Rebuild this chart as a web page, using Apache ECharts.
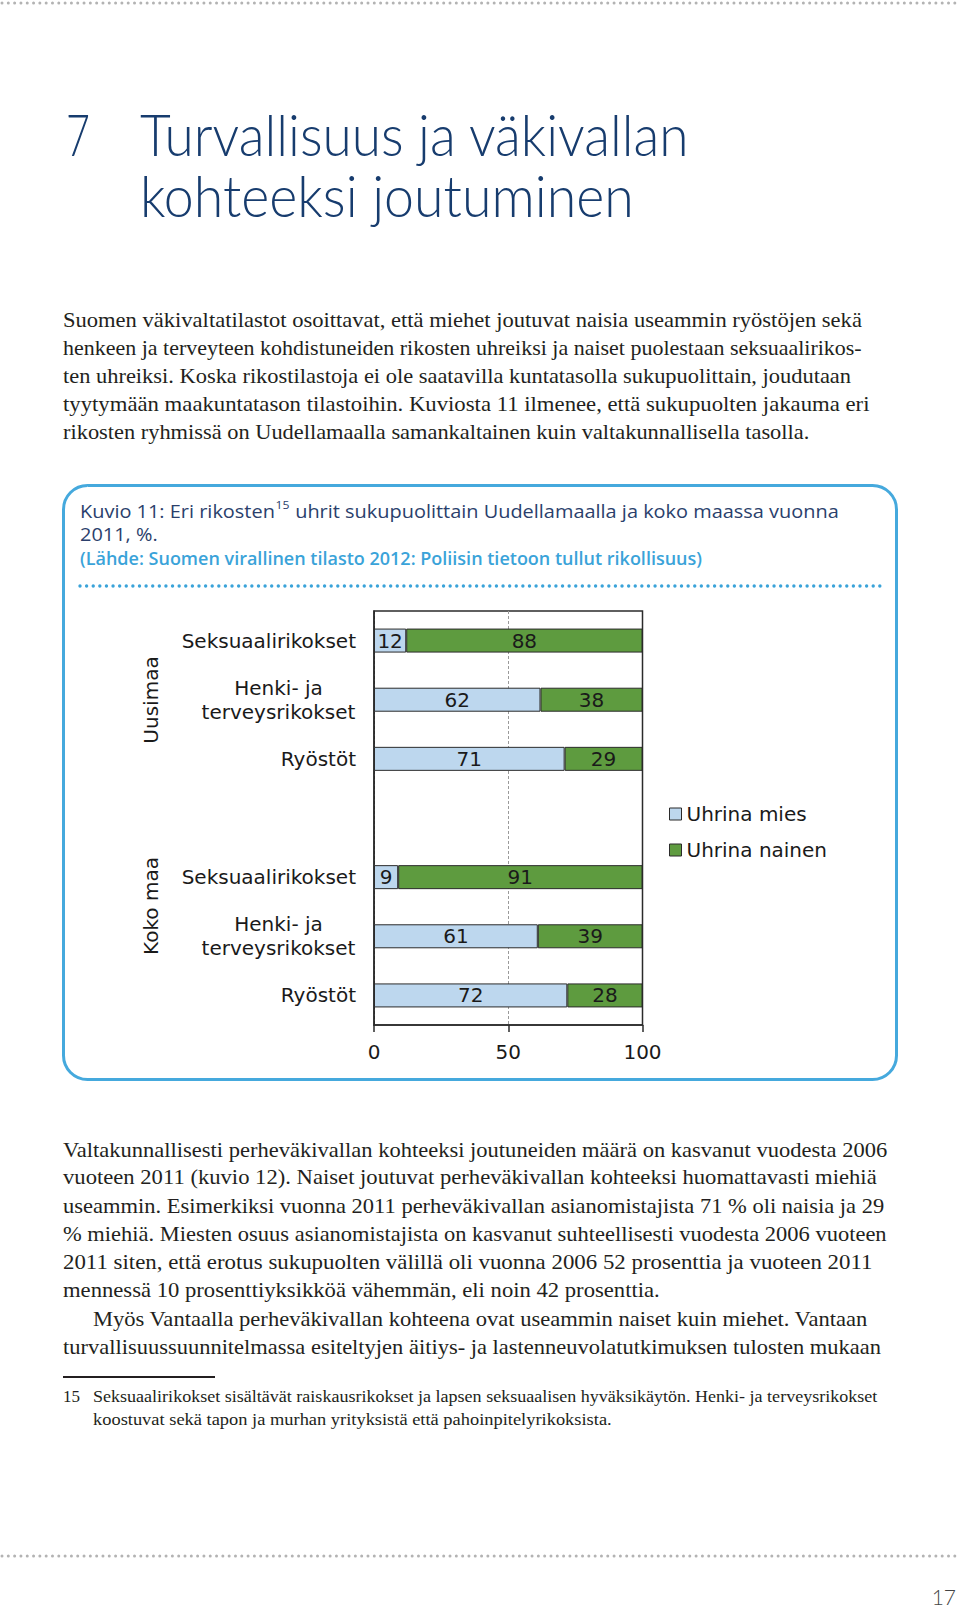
<!DOCTYPE html>
<html><head><meta charset="utf-8">
<script src="https://cdn.jsdelivr.net/npm/echarts@6/dist/echarts.min.js"></script>
<style>html,body{margin:0;padding:0;background:#fff}#c{width:960px;height:1609px}</style>
</head><body><div id="c"></div>
<script>
// ---------- data ----------
const categories = ['Seksuaalirikokset','Henki- ja terveysrikokset','Ryöstöt','','Seksuaalirikokset','Henki- ja terveysrikokset','Ryöstöt'];
const groups = ['Uusimaa','Koko maa'];
const seriesNames = ['Uhrina mies','Uhrina nainen'];
const uhrinaMies = [12, 62, 71, null, 9, 61, 72];
const uhrinaNainen = [88, 38, 29, null, 91, 39, 28];
const xTickLabels = [0, 50, 100];

const chapterNo = '7';
const titleLines = ['Turvallisuus ja väkivallan', 'kohteeksi joutuminen'];
const para1 = [
 'Suomen väkivaltatilastot osoittavat, että miehet joutuvat naisia useammin ryöstöjen sekä',
 'henkeen ja terveyteen kohdistuneiden rikosten uhreiksi ja naiset puolestaan seksuaalirikos-',
 'ten uhreiksi. Koska rikostilastoja ei ole saatavilla kuntatasolla sukupuolittain, joudutaan',
 'tyytymään maakuntatason tilastoihin. Kuviosta 11 ilmenee, että sukupuolten jakauma eri',
 'rikosten ryhmissä on Uudellamaalla samankaltainen kuin valtakunnallisella tasolla.'
];
const figTitleA = 'Kuvio 11: Eri rikosten';
const figTitleSup = '15';
const figTitleB = ' uhrit sukupuolittain Uudellamaalla ja koko maassa vuonna';
const figTitle2 = '2011, %.';
const figSource = '(Lähde: Suomen virallinen tilasto 2012: Poliisin tietoon tullut rikollisuus)';
const para2 = [
 'Valtakunnallisesti perheväkivallan kohteeksi joutuneiden määrä on kasvanut vuodesta 2006',
 'vuoteen 2011 (kuvio 12). Naiset joutuvat perheväkivallan kohteeksi huomattavasti miehiä',
 'useammin. Esimerkiksi vuonna 2011 perheväkivallan asianomistajista 71 % oli naisia ja 29',
 '% miehiä. Miesten osuus asianomistajista on kasvanut suhteellisesti vuodesta 2006 vuoteen',
 '2011 siten, että erotus sukupuolten välillä oli vuonna 2006 52 prosenttia ja vuoteen 2011',
 'mennessä 10 prosenttiyksikköä vähemmän, eli noin 42 prosenttia.',
 'Myös Vantaalla perheväkivallan kohteena ovat useammin naiset kuin miehet. Vantaan',
 'turvallisuussuunnitelmassa esiteltyjen äitiys- ja lastenneuvolatutkimuksen tulosten mukaan'
];
const footNo = '15';
const footLines = [
 'Seksuaalirikokset sisältävät raiskausrikokset ja lapsen seksuaalisen hyväksikäytön. Henki- ja terveysrikokset',
 'koostuvat sekä tapon ja murhan yrityksistä että pahoinpitelyrikoksista.'
];
const pageNo = '17';

// ---------- helpers ----------
const mctx = document.createElement('canvas').getContext('2d');
function measure(text, o){
  mctx.font = (o.weight||'normal') + ' ' + o.size + 'px ' + o.family;
  return mctx.measureText(text).width;
}
function txt(text, x, y, o, x2){
  const w = measure(text, o);
  const sx = x2 ? (x2 - x) / w : 1;
  return {type:'text', x:x, y:y, scaleX:sx, silent:true,
    style:{text:text, fontSize:o.size, fontFamily:o.family, fontWeight:o.weight||'normal',
      fill:o.fill, align:'left', verticalAlign:'middle'}};
}
function dots(x1, x2, y, color, gap, width){
  return {type:'line', silent:true, shape:{x1:x1,y1:y,x2:x2,y2:y},
    style:{stroke:color, lineWidth:width, lineDash:[0.01, gap], lineCap:'round'}};
}

const SERIF = {family:"'Liberation Serif'", size:21, fill:'#231f20'};
const TITLE = {family:"Lato", size:58, weight:300, fill:'#173c6e'};
const FIG = {family:"'Open Sans'", size:18, fill:'#2b3f6c'};
const SRC = {family:"'Open Sans'", size:18, weight:600, fill:'#3aa3d9'};
const FOOT = {family:"'Liberation Serif'", size:17, fill:'#231f20'};
const CH = "'DejaVu Sans'";

const g = [];
// page dotted lines
g.push(dots(2, 958, 3, '#b3b3b3', 6.3, 3));
g.push(dots(2, 958, 1556, '#b3b3b3', 6.3, 3));
// chapter title
g.push(txt(chapterNo, 66, 134, TITLE, 90));
g.push(txt(titleLines[0], 140, 134, TITLE, 690));
g.push(txt(titleLines[1], 140, 195, TITLE, 634));
// paragraph 1
const p1y = [320, 348, 376, 404, 432];
const p1e = [862, 862, 852, 870, 810];
para1.forEach((t,i)=>g.push(txt(t, 63, p1y[i], SERIF, p1e[i])));
// figure box
g.push({type:'rect', silent:true, shape:{x:63.5, y:485.5, width:833, height:594, r:24},
  style:{fill:'none', stroke:'#45a9dd', lineWidth:3}});
// figure title with superscript
(function(){
  const wa = measure(figTitleA, FIG), wb = measure(figTitleB, FIG);
  const SUP = {family:FIG.family, size:11, fill:FIG.fill};
  const ws = measure(figTitleSup, SUP) + 1;
  const s = (839 - 80) / (wa + ws + wb);
  const y = 511;
  g.push({type:'text', x:80, y:y, scaleX:s, style:{text:figTitleA, fontSize:FIG.size, fontFamily:FIG.family, fill:FIG.fill, verticalAlign:'middle'}});
  g.push({type:'text', x:80 + wa*s + 0.5, y:y-6, scaleX:s, style:{text:figTitleSup, fontSize:11, fontFamily:FIG.family, fill:FIG.fill, verticalAlign:'middle'}});
  g.push({type:'text', x:80 + (wa+ws)*s, y:y, scaleX:s, style:{text:figTitleB, fontSize:FIG.size, fontFamily:FIG.family, fill:FIG.fill, verticalAlign:'middle'}});
  g.push({type:'text', x:80, y:534, scaleX:s, style:{text:figTitle2, fontSize:FIG.size, fontFamily:FIG.family, fill:FIG.fill, verticalAlign:'middle'}});
})();
g.push(txt(figSource, 80, 558, SRC, 702));
g.push(dots(80, 880, 586, '#3aa3d9', 6.6, 3.4));
// group labels (rotated)
const grpY = [700, 906];
groups.forEach((t,i)=>g.push({type:'text', x:151, y:grpY[i], rotation:Math.PI/2, silent:true,
  style:{text:t, fontSize:20, fontFamily:CH, fill:'#1a1a1a', align:'center', verticalAlign:'middle'}}));
// paragraph 2
const p2y = [1150, 1177, 1206, 1234, 1262, 1290, 1319, 1347];
const p2x = [63, 63, 63, 63, 63, 63, 93, 63];
const p2e = [888, 877, 885, 887, 873, 660, 868, 881];
para2.forEach((t,i)=>g.push(txt(t, p2x[i], p2y[i], SERIF, p2e[i])));
// footnote
g.push({type:'line', silent:true, shape:{x1:63,y1:1377,x2:215,y2:1377}, style:{stroke:'#231f20', lineWidth:2}});
g.push(txt(footNo, 63, 1396, FOOT));
g.push(txt(footLines[0], 93, 1396, FOOT, 878));
g.push(txt(footLines[1], 93, 1419, FOOT, 612));
// page number
g.push({type:'text', x:956, y:1596, silent:true, style:{text:pageNo, fontSize:21, fontFamily:'Lato', fontWeight:300, fill:'#444', align:'right', verticalAlign:'middle'}});

// ---------- chart ----------
const chart = echarts.init(document.getElementById('c'), null, {renderer:'svg', width:960, height:1609});
const axisColor = '#2b2b2b';
const labelStyle = {fontSize:20, fontFamily:CH, color:'#1a1a1a'};
chart.setOption({
  animation:false,
  backgroundColor:'#ffffff',
  graphic: g,
  grid:{left:374, top:611, width:268.5, height:414, show:true, borderColor:axisColor, borderWidth:1.5, containLabel:false},
  legend:{data:seriesNames, orient:'vertical', left:664, top:799, itemWidth:12, itemHeight:12, itemGap:16, icon:'rect',
    textStyle:Object.assign({}, labelStyle), itemStyle:{borderColor:axisColor, borderWidth:1}},
  xAxis:{type:'value', min:0, max:100, interval:50,
    axisLine:{show:true, lineStyle:{color:axisColor, width:1.5}},
    axisTick:{show:true, length:7, lineStyle:{color:axisColor, width:1.5}},
    axisLabel:Object.assign({margin:17, formatter:v => (xTickLabels.indexOf(v) >= 0 ? String(v) : '')}, labelStyle),
    splitLine:{show:true, lineStyle:{color:[axisColor, '#9a9a9a', axisColor], width:1, type:[3,2]}}},
  yAxis:{type:'category', inverse:true, data:categories,
    axisLine:{show:true, lineStyle:{color:axisColor, width:1.5}},
    axisTick:{show:false},
    splitLine:{show:false},
    axisLabel:Object.assign({margin:18, interval:0, lineHeight:24,
      formatter:function(v){
        const i = v.indexOf(' ja ');
        if (i >= 0) return '{c|' + v.slice(0, i+3) + '}\n{c|' + v.slice(i+4) + '}';
        return v;
      },
      rich:{c:{width:155, align:'center', fontSize:20, fontFamily:CH, color:'#1a1a1a', lineHeight:24}}}, labelStyle)},
  series:[
    {name:seriesNames[0], type:'bar', stack:'s', data:uhrinaMies, barWidth:24,
     itemStyle:{color:'#bdd7ee', borderColor:axisColor, borderWidth:1},
     label:Object.assign({show:true, position:'inside', textBorderWidth:0}, labelStyle)},
    {name:seriesNames[1], type:'bar', stack:'s', data:uhrinaNainen, barWidth:24,
     itemStyle:{color:'#5e9b3f', borderColor:axisColor, borderWidth:1},
     label:Object.assign({show:true, position:'inside', textBorderWidth:0}, labelStyle)}
  ]
});
</script></body></html>
